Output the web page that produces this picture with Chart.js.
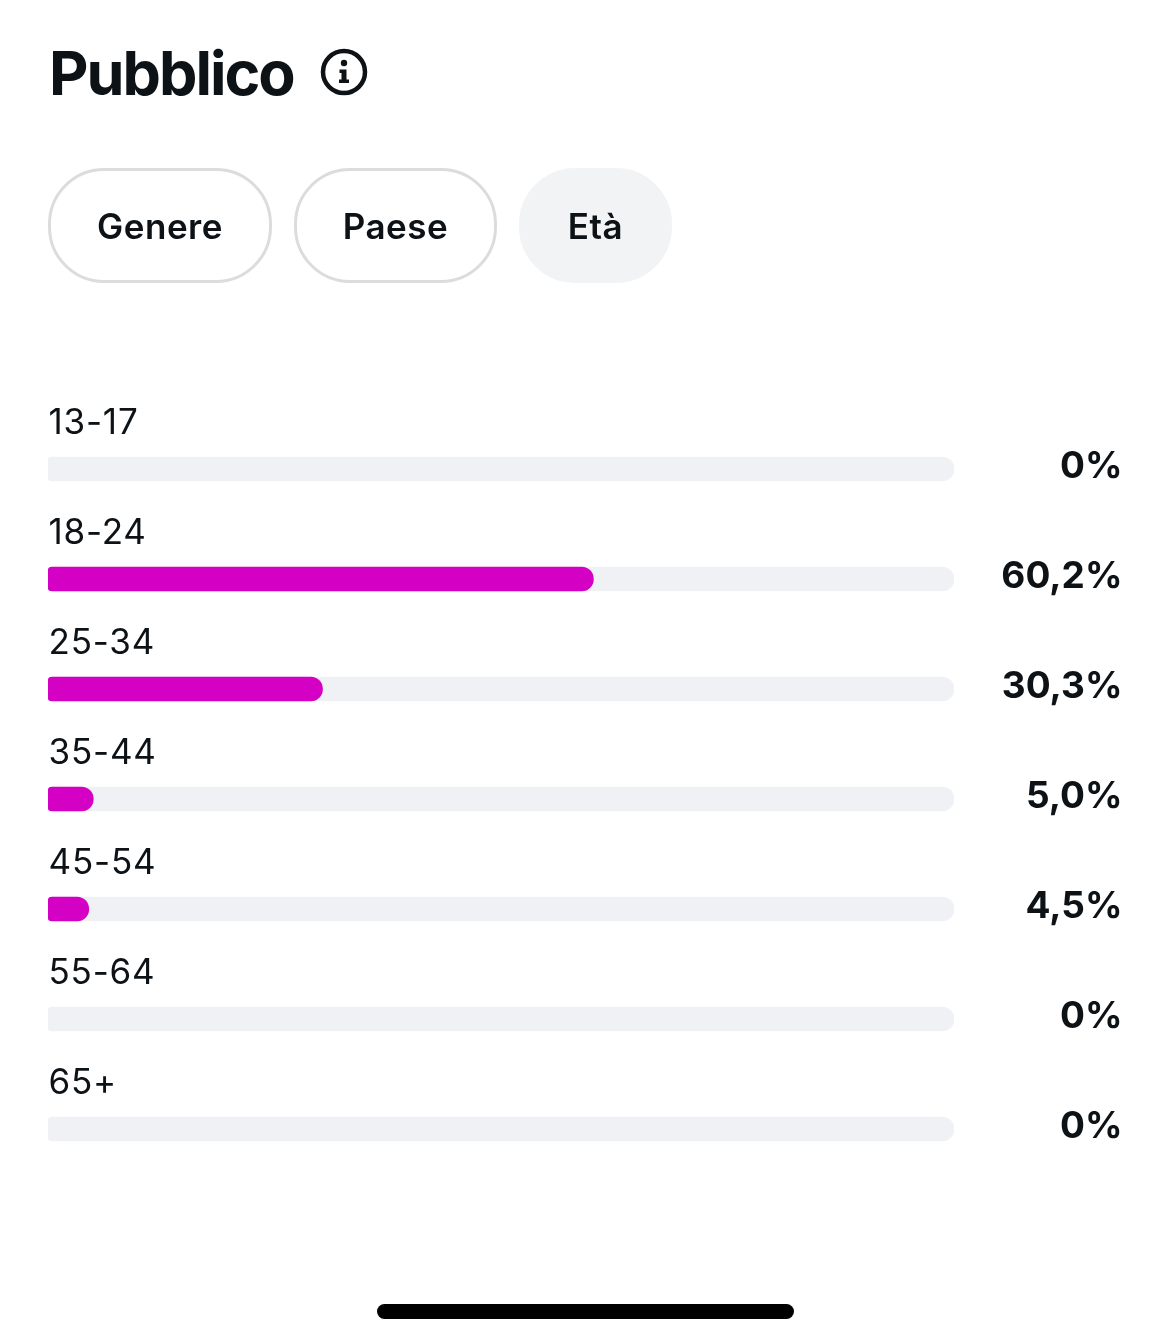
<!DOCTYPE html>
<html lang="it">
<head>
<meta charset="utf-8">
<title>Pubblico</title>
<script src="https://cdn.jsdelivr.net/npm/chart.js@4"></script>
<style>
  html, body { margin: 0; padding: 0; background: #fff; }
  body { position: relative; width: 1170px; height: 1343px; overflow: hidden; font-family: Inter, sans-serif; color: #0d1216; }
  #age-chart { position: absolute; left: 0; top: 0; }
  h1 { position: absolute; left: 49px; top: 36px; margin: 0; font-size: 61px; line-height: 74px; font-weight: 700; letter-spacing: -2px; }
  .info { position: absolute; left: 320px; top: 48px; }
  .pill { position: absolute; top: 168px; height: 115px; box-sizing: border-box; border: 3px solid #dcdcdc; border-radius: 56px; font-size: 35px; font-weight: 600; line-height: 111px; text-align: center; letter-spacing: 0.5px; }
  .pill.active { background: #f2f3f5; border-color: #f2f3f5; }
  .home { position: absolute; left: 377px; top: 1304px; width: 417px; height: 15px; border-radius: 8px; background: #000; }
</style>
</head>
<body>
<canvas id="age-chart" width="1170" height="1343"></canvas>
<h1>Pubblico</h1>
<svg class="info" width="48" height="48" viewBox="0 0 48 48">
  <circle cx="24" cy="24" r="21" fill="none" stroke="#0d1216" stroke-width="4.5"/>
  <circle cx="24" cy="15" r="3.2" fill="#0d1216"/>
  <path d="M19.5 21.5h7v10h2.5v3.5h-10v-3.5h2.5v-6.5h-2z" fill="#0d1216"/>
</svg>
<div class="pill" style="left:48px;width:224px">Genere</div>
<div class="pill" style="left:294px;width:203px">Paese</div>
<div class="pill active" style="left:519px;width:153px">Età</div>
<div class="home"></div>

<script>
const ageGroups = ["13-17", "18-24", "25-34", "35-44", "45-54", "55-64", "65+"];
const shares = [0, 60.2, 30.3, 5.0, 4.5, 0, 0];
const fullTrack = [100, 100, 100, 100, 100, 100, 100];
const shareLabels = ["0%", "60,2%", "30,3%", "5,0%", "4,5%", "0%", "0%"];

// category above each bar, percentage at the far right
const rowLabels = {
  id: "rowLabels",
  afterDatasetsDraw(chart) {
    const { ctx } = chart;
    const bars = chart.getDatasetMeta(0).data;
    ctx.save();
    ctx.fillStyle = "#0d1216";
    ctx.textBaseline = "alphabetic";
    bars.forEach((bar, i) => {
      ctx.textAlign = "left";
      ctx.font = "400 35px Inter";
      ctx.letterSpacing = "0.8px";
      ctx.fillText(ageGroups[i], 48.5, bar.y - 35);

      ctx.textAlign = "right";
      ctx.font = "700 37px Inter";
      ctx.letterSpacing = "0px";
      ctx.fillText(shareLabels[i], 1122.5, bar.y + 9);
    });
    ctx.restore();
  }
};

new Chart(document.getElementById("age-chart"), {
  type: "bar",
  data: {
    labels: ageGroups,
    datasets: [
      {
        data: shares,
        // empty rows should show only the grey track
        backgroundColor: c => (c.raw > 0 ? "#d400c4" : "transparent"),
        borderRadius: { topLeft: 4, bottomLeft: 4, topRight: 12, bottomRight: 12 },
        borderSkipped: false,
        order: 0
      },
      {
        data: fullTrack,
        backgroundColor: "#f0f1f5",
        borderRadius: { topLeft: 4, bottomLeft: 4, topRight: 12, bottomRight: 12 },
        borderSkipped: false,
        order: 1
      }
    ]
  },
  options: {
    indexAxis: "y",
    responsive: false,
    animation: false,
    devicePixelRatio: 1,
    layout: { padding: { left: 48, right: 216, top: 414, bottom: 159 } },
    datasets: { bar: { barThickness: 24, grouped: false } },
    scales: {
      x: { display: false, min: 0, max: 100 },
      y: { display: false }
    },
    plugins: {
      legend: { display: false },
      tooltip: { enabled: false }
    }
  },
  plugins: [rowLabels]
});
</script>
</body>
</html>
